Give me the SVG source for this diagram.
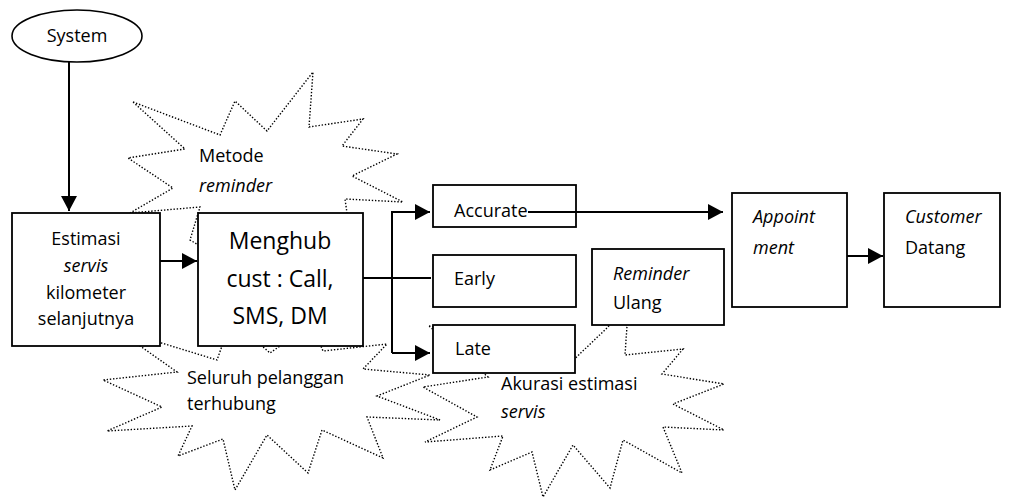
<svg xmlns="http://www.w3.org/2000/svg" width="1019" height="502" viewBox="0 0 1019 502">
  <defs>
    <marker id="arrow" markerUnits="userSpaceOnUse" markerWidth="16" markerHeight="16" refX="15" refY="8" orient="auto">
      <path d="M0,0 L15,8 L0,16 Z" fill="#000"/>
    </marker>
  </defs>
  <style>
    .burst{fill:none;stroke:#000;stroke-width:1.4;stroke-dasharray:1.4 1.8}
    .box{fill:#fff;stroke:#000;stroke-width:1.8}
    .conn{fill:none;stroke:#000;stroke-width:2}
    text{font-family:"Open Sans","Liberation Sans",sans-serif;font-size:18px;fill:#000}
    .it{font-style:italic}
    .mid{text-anchor:middle}
    .big{font-size:23px}
  </style>
  <rect width="1019" height="502" fill="#fff"/>

  <!-- dotted explosion callouts (drawn first, boxes cover their inner parts) -->
  <g id="burst-metode">
    <polygon class="burst" points="133,102 220,135 235,101 267,131 313,72 309,127 363,119 342,146 397,154 352,176 403,202 345,199 347,213 330,280 240,270 190,240 200,207 130,213 173,188 128,158 185,149"/>
    <text x="199" y="162">Metode</text>
    <text x="199" y="192" class="it">reminder</text>
  </g>
  <g id="burst-seluruh">
    <polygon class="burst" points="116,329 177,372 103,380 162,407 107,431 192,426 178,456 223,439 235,490 267,435 308,473 322,430 383,458 367,417 440,420 377,396 430,375 363,369 387,344 323,351 310,320 280,346 270,353 262,346 245,320 222,346 217,360"/>
    <text x="187" y="384">Seluruh pelanggan</text>
    <text x="187" y="410">terhubung</text>
  </g>
  <g id="burst-akurasi">
    <polygon class="burst" points="429,326 520,340 565,368 608,327 618,312 627,326 625,355 683,349 662,374 724,384 673,404 724,430 663,427 682,473 623,440 610,488 573,445 543,497 532,452 490,470 503,436 425,442 477,417 423,387 488,377"/>
    <text x="501" y="390">Akurasi estimasi</text>
    <text x="501" y="418" class="it">servis</text>
  </g>

  <!-- process nodes -->
  <g id="system">
    <ellipse cx="77" cy="36" rx="65" ry="26" fill="#fff" stroke="#000" stroke-width="1.6"/>
    <text x="77" y="42" class="mid">System</text>
  </g>
  <g id="estimasi">
    <rect class="box" x="12" y="213" width="148" height="133"/>
    <text x="86" y="245" class="mid">Estimasi</text>
    <text x="86" y="272" class="mid it">servis</text>
    <text x="86" y="299" class="mid">kilometer</text>
    <text x="86" y="325" class="mid">selanjutnya</text>
  </g>
  <g id="menghub">
    <rect class="box" x="198" y="213" width="165" height="133"/>
    <text x="280" y="249" class="mid big">Menghub</text>
    <text x="280" y="287" class="mid big">cust : Call,</text>
    <text x="280" y="324" class="mid big">SMS, DM</text>
  </g>
  <g id="accurate">
    <rect class="box" x="433" y="185" width="143" height="42"/>
    <text x="454" y="217">Accurate</text>
  </g>
  <g id="early">
    <rect class="box" x="433" y="255" width="143" height="52"/>
    <text x="454" y="285">Early</text>
  </g>
  <g id="late">
    <rect class="box" x="433" y="325" width="142" height="48"/>
    <text x="455" y="355">Late</text>
  </g>
  <g id="reminder-ulang">
    <rect class="box" x="592" y="249" width="132" height="76"/>
    <text x="613" y="280" class="it">Reminder</text>
    <text x="613" y="309">Ulang</text>
  </g>
  <g id="appointment">
    <rect class="box" x="732" y="193" width="115" height="114"/>
    <text x="753" y="223" class="it">Appoint</text>
    <text x="753" y="254" class="it">ment</text>
  </g>
  <g id="customer-datang">
    <rect class="box" x="884" y="193" width="116" height="114"/>
    <text x="905" y="223" class="it">Customer</text>
    <text x="905" y="254">Datang</text>
  </g>

  <!-- connectors -->
  <g id="connectors">
    <path class="conn" d="M69,62 V211" marker-end="url(#arrow)"/>
    <path class="conn" d="M160,261 H197" marker-end="url(#arrow)"/>
    <path class="conn" d="M363,278 H431"/>
    <path class="conn" d="M392,353 V212 H430" marker-end="url(#arrow)"/>
    <path class="conn" d="M392,353 H430" marker-end="url(#arrow)"/>
    <path class="conn" d="M528,212 H723" marker-end="url(#arrow)"/>
    <path class="conn" d="M847,256 H883" marker-end="url(#arrow)"/>
  </g>
</svg>
